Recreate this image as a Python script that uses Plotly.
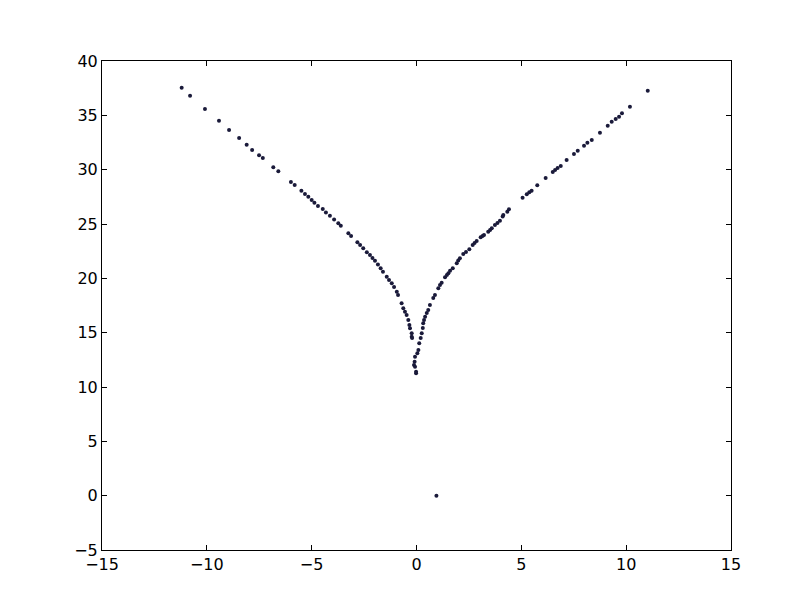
import plotly.graph_objects as go

x_left = [-11.20, -10.80, -10.09, -9.42, -8.94, -8.46, -8.10, -7.84, -7.51, -7.33,
          -6.83, -6.59, -5.99, -5.81, -5.49, -5.32, -5.16, -5.00, -4.87, -4.70,
          -4.47, -4.32, -4.13, -3.93, -3.73, -3.61, -3.25, -3.12, -2.82, -2.69,
          -2.54, -2.37, -2.22, -2.10, -1.98, -1.84, -1.71, -1.60, -1.42, -1.31,
          -1.18, -1.07, -0.94, -0.88, -0.71, -0.63, -0.55, -0.47, -0.39, -0.34,
          -0.31, -0.23, -0.23, -0.21]
y_left = [37.54, 36.81, 35.58, 34.51, 33.65, 32.92, 32.30, 31.81, 31.32, 31.08,
          30.22, 29.85, 28.87, 28.59, 28.07, 27.76, 27.51, 27.21, 26.96, 26.66,
          26.38, 26.06, 25.77, 25.42, 25.07, 24.85, 24.15, 23.90, 23.32, 23.07,
          22.77, 22.40, 22.15, 21.87, 21.62, 21.28, 20.93, 20.61, 20.15, 19.85,
          19.55, 19.20, 18.77, 18.47, 17.70, 17.24, 16.93, 16.63, 16.17, 15.71,
          15.40, 14.94, 14.63, 14.51]

x_bottom = [-0.07, -0.09, -0.12, -0.07, -0.02, -0.02]
y_bottom = [12.79, 12.33, 12.03, 11.87, 11.41, 11.26]

x_right = [0.04, 0.09, 0.13, 0.20, 0.25, 0.30, 0.32, 0.36, 0.41, 0.49,
           0.56, 0.64, 0.80, 0.88, 1.04, 1.12, 1.20, 1.36, 1.45, 1.52,
           1.60, 1.73, 1.92, 1.99, 2.07, 2.23, 2.36, 2.52, 2.68, 2.77,
           2.87, 3.06, 3.15, 3.22, 3.42, 3.51, 3.59, 3.74, 3.86, 3.98,
           4.11, 4.14, 4.33, 4.41, 5.06, 5.26, 5.38, 5.49, 5.76, 6.16,
           6.50, 6.61, 6.73, 6.88, 7.16, 7.51, 7.69, 7.99, 8.15, 8.36,
           8.75, 9.12, 9.31, 9.50, 9.66, 9.80, 10.18, 11.03]
y_right = [13.10, 13.41, 14.02, 14.51, 14.94, 15.43, 15.86, 16.17, 16.47, 16.81,
           17.09, 17.55, 18.19, 18.47, 19.08, 19.39, 19.60, 20.10, 20.31, 20.47,
           20.70, 20.93, 21.39, 21.64, 21.85, 22.24, 22.43, 22.67, 23.07, 23.25,
           23.44, 23.78, 23.90, 23.99, 24.29, 24.45, 24.61, 24.91, 25.09, 25.31,
           25.69, 25.83, 26.13, 26.35, 27.42, 27.74, 27.92, 28.07, 28.56, 29.24,
           29.79, 29.97, 30.16, 30.34, 30.89, 31.44, 31.75, 32.21, 32.48, 32.73,
           33.40, 34.05, 34.42, 34.66, 34.88, 35.19, 35.80, 37.27]

x_outlier = [0.95]
y_outlier = [0.0]

xs = x_left + x_bottom + x_right + x_outlier
ys = y_left + y_bottom + y_right + y_outlier

fig = go.Figure(go.Scatter(
    x=xs, y=ys, mode="markers",
    marker=dict(size=4, color="#1a1a3a", line=dict(width=0)),
    showlegend=False,
))

axis_common = dict(
    showgrid=False, zeroline=False, showline=True, linecolor="black", linewidth=1,
    mirror="allticks", ticks="inside", ticklen=5, tickwidth=1, tickcolor="black",
    tickfont=dict(family="DejaVu Sans", size=16, color="black"),
)

fig.update_xaxes(range=[-15, 15], dtick=5, tick0=0, **axis_common)
fig.update_yaxes(range=[-5, 40], dtick=5, tick0=0, **axis_common)

fig.update_layout(
    width=804, height=604,
    margin=dict(l=94, r=81, t=53, b=62),
    plot_bgcolor="white", paper_bgcolor="white",
)

fig.write_html("out.html")
